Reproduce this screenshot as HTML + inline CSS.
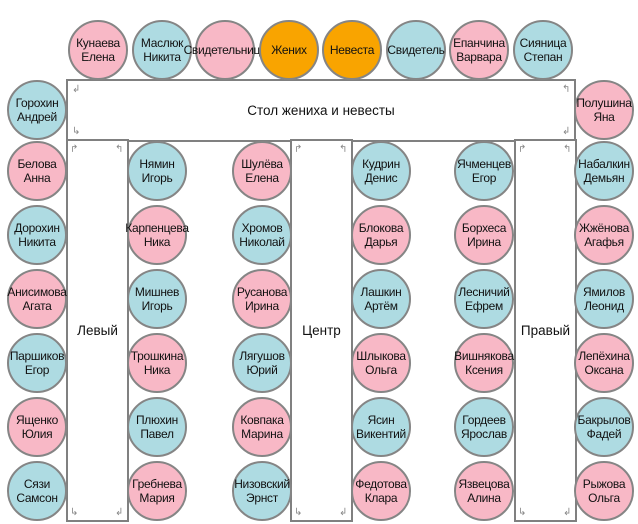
<!DOCTYPE html>
<html><head><meta charset="utf-8"><style>
html,body{margin:0;padding:0;background:#fff;width:638px;height:524px;overflow:hidden;position:relative;font-family:"Liberation Sans","DejaVu Sans",sans-serif}
.c{position:absolute;width:56px;height:56px;border:2px solid #858585;border-radius:50%;display:flex;align-items:center;justify-content:center;text-align:center;font-size:12px;line-height:14px;color:#111;white-space:nowrap;letter-spacing:-0.3px}
.p{background:#f8b8c6}.b{background:#aedbe2}.o{background:#f9a400}
.t{position:absolute;border:2.5px solid #808080;box-sizing:border-box;background:#fff;display:flex;align-items:center;justify-content:center;font-size:13.5px;color:#111}
.a{position:absolute;font-size:10px;color:#888;line-height:10px}
</style></head><body>
<div class="t" style="left:66px;top:79px;width:510px;height:63px">Стол жениха и невесты</div>
<div class="t" style="left:66px;top:139px;width:63px;height:383px">Левый</div>
<div class="t" style="left:290px;top:139px;width:63px;height:383px">Центр</div>
<div class="t" style="left:514px;top:139px;width:63px;height:383px">Правый</div>
<div class="a" style="left:72px;top:85px">↲</div>
<div class="a" style="left:72px;top:127px">↳</div>
<div class="a" style="left:562px;top:85px">↰</div>
<div class="a" style="left:562px;top:127px">↲</div>
<div class="a" style="left:70px;top:145px">↱</div><div class="a" style="left:115px;top:145px">↰</div>
<div class="a" style="left:70px;top:508px">↳</div><div class="a" style="left:115px;top:508px">↲</div>
<div class="a" style="left:294px;top:145px">↱</div><div class="a" style="left:339px;top:145px">↰</div>
<div class="a" style="left:294px;top:508px">↳</div><div class="a" style="left:339px;top:508px">↲</div>
<div class="a" style="left:518px;top:145px">↱</div><div class="a" style="left:563px;top:145px">↰</div>
<div class="a" style="left:518px;top:508px">↳</div><div class="a" style="left:563px;top:508px">↲</div>

<div class="c p" style="left:68px;top:20px">Кунаева<br>Елена</div>
<div class="c b" style="left:132px;top:20px">Маслюк<br>Никита</div>
<div class="c p" style="left:195px;top:20px">Свидетельница</div>
<div class="c o" style="left:259px;top:20px">Жених</div>
<div class="c o" style="left:322px;top:20px">Невеста</div>
<div class="c b" style="left:386px;top:20px">Свидетель</div>
<div class="c p" style="left:449px;top:20px">Епанчина<br>Варвара</div>
<div class="c b" style="left:513px;top:20px">Сияница<br>Степан</div>

<div class="c b" style="left:7px;top:80px">Горохин<br>Андрей</div>
<div class="c p" style="left:574px;top:80px">Полушина<br>Яна</div>

<div class="c p" style="left:7px;top:141px">Белова<br>Анна</div>
<div class="c b" style="left:7px;top:205px">Дорохин<br>Никита</div>
<div class="c p" style="left:7px;top:269px">Анисимова<br>Агата</div>
<div class="c b" style="left:7px;top:333px">Паршиков<br>Егор</div>
<div class="c p" style="left:7px;top:397px">Ященко<br>Юлия</div>
<div class="c b" style="left:7px;top:461px">Сязи<br>Самсон</div>

<div class="c b" style="left:127px;top:141px">Нямин<br>Игорь</div>
<div class="c p" style="left:127px;top:205px">Карпенцева<br>Ника</div>
<div class="c b" style="left:127px;top:269px">Мишнев<br>Игорь</div>
<div class="c p" style="left:127px;top:333px">Трошкина<br>Ника</div>
<div class="c b" style="left:127px;top:397px">Плюхин<br>Павел</div>
<div class="c p" style="left:127px;top:461px">Гребнева<br>Мария</div>

<div class="c p" style="left:232px;top:141px">Шулёва<br>Елена</div>
<div class="c b" style="left:232px;top:205px">Хромов<br>Николай</div>
<div class="c p" style="left:232px;top:269px">Русанова<br>Ирина</div>
<div class="c b" style="left:232px;top:333px">Лягушов<br>Юрий</div>
<div class="c p" style="left:232px;top:397px">Ковпака<br>Марина</div>
<div class="c b" style="left:232px;top:461px">Низовский<br>Эрнст</div>

<div class="c b" style="left:351px;top:141px">Кудрин<br>Денис</div>
<div class="c p" style="left:351px;top:205px">Блокова<br>Дарья</div>
<div class="c b" style="left:351px;top:269px">Лашкин<br>Артём</div>
<div class="c p" style="left:351px;top:333px">Шлыкова<br>Ольга</div>
<div class="c b" style="left:351px;top:397px">Ясин<br>Викентий</div>
<div class="c p" style="left:351px;top:461px">Федотова<br>Клара</div>

<div class="c b" style="left:454px;top:141px">Ячменцев<br>Егор</div>
<div class="c p" style="left:454px;top:205px">Борхеса<br>Ирина</div>
<div class="c b" style="left:454px;top:269px">Лесничий<br>Ефрем</div>
<div class="c p" style="left:454px;top:333px">Вишнякова<br>Ксения</div>
<div class="c b" style="left:454px;top:397px">Гордеев<br>Ярослав</div>
<div class="c p" style="left:454px;top:461px">Язвецова<br>Алина</div>

<div class="c b" style="left:574px;top:141px">Набалкин<br>Демьян</div>
<div class="c p" style="left:574px;top:205px">Жжёнова<br>Агафья</div>
<div class="c b" style="left:574px;top:269px">Ямилов<br>Леонид</div>
<div class="c p" style="left:574px;top:333px">Лепёхина<br>Оксана</div>
<div class="c b" style="left:574px;top:397px">Бакрылов<br>Фадей</div>
<div class="c p" style="left:574px;top:461px">Рыжова<br>Ольга</div>
</body></html>
